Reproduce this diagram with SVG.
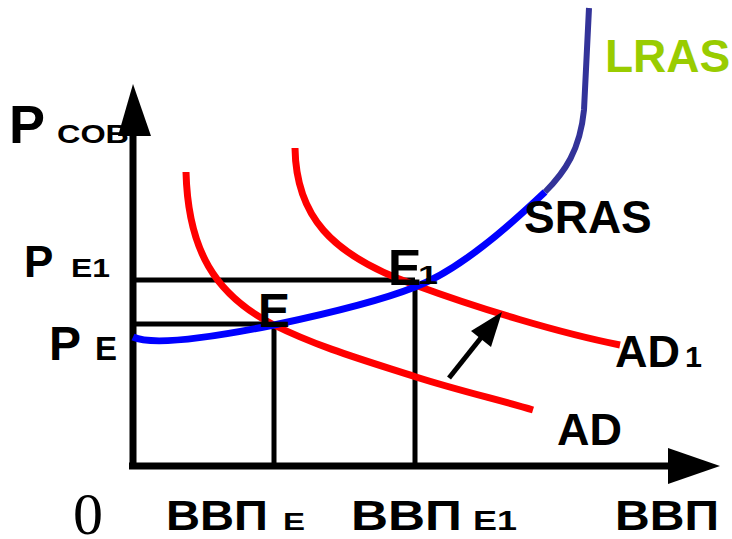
<svg xmlns="http://www.w3.org/2000/svg" width="732" height="539" viewBox="0 0 732 539">
<style>
.t{font-family:"Liberation Sans",Arial,sans-serif;font-weight:bold;fill:#000}
.ad{fill:none;stroke:#ff0000;stroke-width:7;stroke-linecap:butt}
.guide{stroke:#000;stroke-width:5;fill:none}
.axis{stroke:#000;stroke-width:7;fill:none}
</style>
<rect width="732" height="539" fill="#fff"/>
<g id="labels-y">
<text class="t" x="57" y="143" font-size="26" textLength="72" lengthAdjust="spacingAndGlyphs">COB</text>
<text class="t" x="9" y="143" font-size="54">P</text>
<text class="t" x="24" y="277" font-size="44">P</text>
<text class="t" x="71" y="277" font-size="26" textLength="39" lengthAdjust="spacingAndGlyphs">E1</text>
<text class="t" x="49" y="360" font-size="48">P</text>
<text class="t" x="95" y="360" font-size="33">E</text>
</g>
<g id="guides">
<line class="guide" x1="133" y1="280" x2="415" y2="280"/>
<line class="guide" x1="415" y1="280" x2="415" y2="466"/>
<line class="guide" x1="133" y1="324" x2="274" y2="324"/>
<line class="guide" x1="274" y1="324" x2="274" y2="466"/>
</g>
<g id="axes">
<line class="axis" x1="133" y1="130" x2="133" y2="469"/>
<polygon points="133,84 118,136 151,136" fill="#000"/>
<line class="axis" x1="129" y1="466" x2="670" y2="466" stroke-width="8"/>
<polygon points="668,448 720,466 668,484" fill="#000"/>
</g>
<g id="AD">
<path class="ad" d="M186,172 C188,250 215,295 274,325 C320,348 370,362 416,377 C460,391 500,400 533,410"/>
<text class="t" x="557" y="445" font-size="45">AD</text>
</g>
<g id="AD1">
<path class="ad" d="M295,148 C296,215 330,255 415,285 C480,309 560,333 620,345"/>
<text class="t" x="615" y="367" font-size="45">AD</text>
<text class="t" x="685" y="367" font-size="30" textLength="17" lengthAdjust="spacingAndGlyphs">1</text>
</g>
<g id="LRAS">
<path d="M545,192 C565,172 580,150 584,110 L589,8" fill="none" stroke="#333399" stroke-width="6"/>
<text class="t" x="605" y="72" font-size="46" style="fill:#99cc00">LRAS</text>
</g>
<g id="SRAS">
<path d="M133,337 C150,345 200,340 274,325 C340,311 390,297 415,287 C460,270 510,225 545,192" fill="none" stroke="#0000ff" stroke-width="7"/>
<text class="t" x="524" y="233" font-size="46">SRAS</text>
</g>
<g id="connectors">
<line x1="449" y1="378" x2="484" y2="334" stroke="#000" stroke-width="5"/>
<polygon points="502,312 471,331 491,347" fill="#000"/>
</g>
<g id="E">
<text class="t" x="258" y="327" font-size="48">E</text>
</g>
<g id="E1">
<text class="t" x="388" y="285" font-size="50">E</text>
<text class="t" x="418" y="284" font-size="26" textLength="20" lengthAdjust="spacingAndGlyphs">1</text>
</g>
<g id="labels-x">
<text x="73" y="534" font-size="60" font-family="'Liberation Serif','Times New Roman',serif">0</text>
<text class="t" x="166" y="530" font-size="42" textLength="102" lengthAdjust="spacingAndGlyphs">ВВП</text>
<text class="t" x="283" y="530" font-size="24" textLength="22" lengthAdjust="spacingAndGlyphs">E</text>
<text class="t" x="351" y="530" font-size="43" textLength="111" lengthAdjust="spacingAndGlyphs">ВВП</text>
<text class="t" x="473" y="530" font-size="27" textLength="44" lengthAdjust="spacingAndGlyphs">E1</text>
<text class="t" x="615" y="530" font-size="43" textLength="104" lengthAdjust="spacingAndGlyphs">ВВП</text>
</g>
</svg>
